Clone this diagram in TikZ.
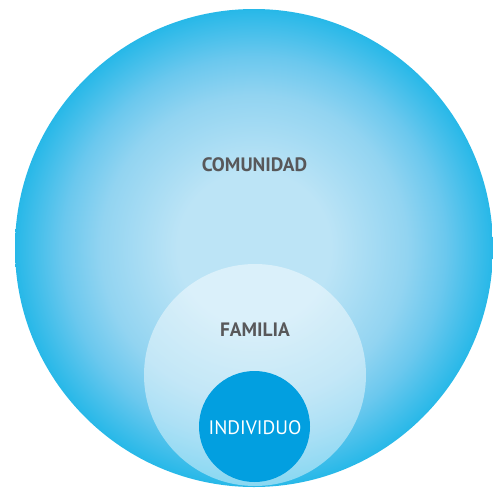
\documentclass[tikz,border=0pt]{standalone}
\usepackage{fontspec}
\setmainfont{PT Sans}
\definecolor{ring_light}{HTML}{BCE4F6}
\definecolor{ring_mid}{HTML}{92D4F1}
\definecolor{ring_outer}{HTML}{6BC8EE}
\definecolor{ring_edge}{HTML}{27B8E8}
\definecolor{core_blue}{HTML}{029FE0}
\definecolor{label_gray}{HTML}{58585A}
\pgfdeclareradialshading{comunidad_shade}{\pgfpoint{0bp}{0bp}}{%
  color(0bp)=(ring_light); color(8bp)=(ring_light); color(16bp)=(ring_mid);
  color(20bp)=(ring_outer); color(25bp)=(ring_edge); color(50bp)=(ring_edge)}

\begin{document}
\begin{tikzpicture}[
    x=1pt, y=-1pt,
    circle_node/.style={circle, inner sep=0pt, draw=none},
    label_text/.style={font=\bfseries\fontsize{19.4}{21}\selectfont, text=label_gray},
    core_text/.style={font=\fontsize{19.5}{21}\selectfont, text=white}
]
\useasboundingbox (0,0) rectangle (493,488);

% --- CIRCLES ---
\node[circle_node, minimum size=478pt, shading=comunidad_shade] (comunidad) at (254,248) {};
\node[circle_node, minimum size=222pt, fill=white, fill opacity=0.45] (familia) at (255,375) {};
\node[circle_node, minimum size=111pt, fill=core_blue] (individuo) at (254.5,426.5) {};

% --- LABELS ---
\node[label_text] (comunidad_lbl) at (254.5,164.5) {COMUNIDAD};
\node[label_text] (familia_lbl) at (255,329.5) {FAMILIA};
\node[core_text] (individuo_lbl) at (255,428) {INDIVIDUO};

\end{tikzpicture}
\end{document}
